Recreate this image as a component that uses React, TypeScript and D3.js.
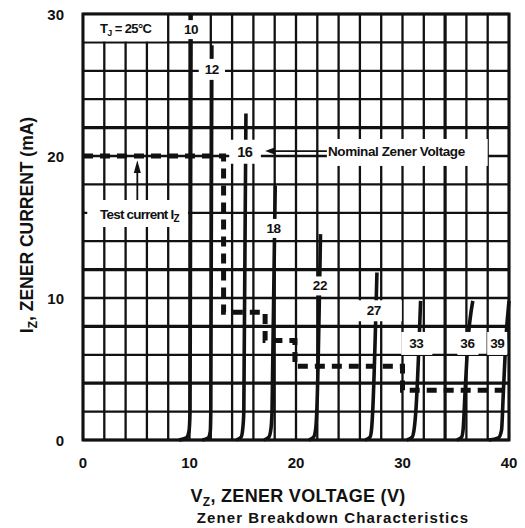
import React, { useEffect, useRef } from "react";
import * as d3 from "d3";

// axis ticks
const xTickValues = [0, 10, 20, 30, 40];
const yTickValues = [0, 10, 20, 30];
// grid lines drawn heavier in the scan
const heavyGridV = [34];
const heavyGridI = [4, 8, 12, 22];

// zener curves, [V, mA]
const curve10: [number, number][] = [[9.0, 0], [9.7, 0.15], [9.95, 0.6], [10.05, 2], [10.15, 30]];
const curve12: [number, number][] = [[11.2, 0], [11.75, 0.15], [11.95, 0.6], [12.0, 2], [12.1, 27.8]];
const curve16: [number, number][] = [[14.4, 0], [14.85, 0.2], [15.0, 0.8], [15.1, 2], [15.3, 23]];
const curve18: [number, number][] = [[17.0, 0], [17.45, 0.2], [17.65, 0.8], [17.75, 2], [18.05, 17.9]];
const curve22: [number, number][] = [[21.2, 0], [21.65, 0.2], [21.85, 0.8], [21.95, 2], [22.3, 14.5]];
const curve27: [number, number][] = [[26.5, 0], [26.95, 0.2], [27.1, 0.8], [27.2, 2], [27.6, 11.8]];
const curve33: [number, number][] = [[30.4, 0], [30.9, 0.2], [31.1, 0.8], [31.25, 2], [31.7, 9.8]];
const curve36: [number, number][] = [[35.1, 0], [35.55, 0.2], [35.7, 0.8], [35.85, 3], [36.1, 6.5], [36.6, 9.8]];
const curve39: [number, number][] = [[38.1, 0], [39.0, 0.15], [39.3, 0.7], [39.45, 3], [39.7, 7], [40.0, 9.8]];

const zenerNames = ["10", "12", "16", "18", "22", "27", "33", "36", "39"];
const zenerCurves = [curve10, curve12, curve16, curve18, curve22, curve27, curve33, curve36, curve39];
// where each curve's label sits (V, mA)
const labelV = [10.14, 12.1, 15.2, 17.9, 22.25, 27.3, 31.3, 36.1, 38.9];
const labelI = [28.9, 26.1, 20.3, 14.9, 10.85, 9.1, 6.8, 6.8, 6.8];

// test current staircase
const testV = [0, 13.2, 13.2, 17.1, 17.1, 19.9, 19.9, 30.0, 30.0, 40];
const testI = [20, 20, 9.0, 9.0, 7.0, 7.0, 5.2, 5.2, 3.5, 3.5];

const FONT = "'Liberation Sans', Arial, sans-serif";

function ZenerChart(props: Props) {
  const svgRef: any = useRef(null);

  useEffect(() => {
    draw();
  }, []);

  const draw = () => {
    const root = d3.select(svgRef.current);
    root.selectAll("*").remove();

    const x = d3.scaleLinear().domain([0, 40]).range([props.left, props.width - props.right]);
    const y = d3.scaleLinear().domain([0, 30]).range([props.height - props.bottom, props.top]);

    const svg = root.append("g");

    // grid
    svg
      .append("g")
      .selectAll("line")
      .data(x.ticks(20))
      .join("line")
      .attr("x1", (d: number) => x(d))
      .attr("x2", (d: number) => x(d))
      .attr("y1", y(0))
      .attr("y2", y(30))
      .attr("stroke", "#111")
      .attr("stroke-width", (d: number) => (heavyGridV.includes(d) ? 3.2 : 2.3));

    svg
      .append("g")
      .selectAll("line")
      .data(y.ticks(15))
      .join("line")
      .attr("x1", x(0))
      .attr("x2", x(40))
      .attr("y1", (d: number) => y(d))
      .attr("y2", (d: number) => y(d))
      .attr("stroke", "#111")
      .attr("stroke-width", (d: number) => (heavyGridI.includes(d) ? 3.2 : 2.3));

    // test current dashed staircase
    const stairs = testV.map((v, i) => [v, testI[i]] as [number, number]);
    svg
      .append("path")
      .datum(stairs)
      .attr("fill", "none")
      .attr("stroke", "#111")
      .attr("stroke-width", 5)
      .attr("stroke-dasharray", "10,7")
      .attr(
        "d",
        d3
          .line<[number, number]>()
          .x((d) => x(d[0]))
          .y((d) => y(d[1]))
      );

    // zener curves
    const curveLine = d3
      .line<[number, number]>()
      .x((d) => x(d[0]))
      .y((d) => y(d[1]))
      .curve(d3.curveMonotoneX);

    svg
      .append("g")
      .selectAll("path")
      .data(zenerCurves)
      .join("path")
      .attr("fill", "none")
      .attr("stroke", "#111")
      .attr("stroke-width", 3.6)
      .attr("d", (d: any) => curveLine(d));

    // label with white box behind
    const boxed = (tx: number, ty: number, padX: number, padY: number, fill: (t: any) => void, size: number) => {
      const g = svg.append("g");
      const rect = g.append("rect").attr("fill", "#fff");
      const t = g
        .append("text")
        .attr("x", tx)
        .attr("y", ty)
        .attr("text-anchor", "middle")
        .attr("dominant-baseline", "central")
        .attr("font-family", FONT)
        .attr("font-weight", "bold")
        .attr("font-size", size)
        .attr("letter-spacing", -0.4)
        .attr("fill", "#111");
      fill(t);
      const b = (t.node() as any).getBBox();
      rect
        .attr("x", b.x - padX)
        .attr("y", b.y - padY)
        .attr("width", b.width + padX * 2)
        .attr("height", b.height + padY * 2);
      return g;
    };

    const pads: Record<string, [number, number]> = {
      "10": [2, 2],
      "12": [6, 3],
      "16": [8, 4],
      "18": [3, 2],
      "22": [7, 2],
      "27": [21, 3],
      "33": [8, 4],
      "36": [3, 4],
      "39": [3, 4],
    };
    zenerNames.forEach((name, i) => {
      const p = pads[name];
      boxed(x(labelV[i]), y(labelI[i]), p[0], p[1], (t) => t.text(name), name === "16" ? 14.5 : 13.5);
    });

    // T_J box (top-left cell row)
    svg
      .append("rect")
      .attr("x", x(0) + 1)
      .attr("y", y(30) + 1)
      .attr("width", x(8) - x(0) - 2.5)
      .attr("height", y(28) - y(30) - 2)
      .attr("fill", "#fff");
    const tj = svg
      .append("text")
      .attr("x", x(4.0))
      .attr("y", y(29) + 4.5)
      .attr("text-anchor", "middle")
      .attr("font-family", FONT)
      .attr("font-weight", "bold")
      .attr("font-size", 13)
      .attr("letter-spacing", -0.6)
      .attr("fill", "#111");
    tj.append("tspan").text("T");
    tj.append("tspan").attr("dy", 3).attr("font-size", 9).text("J");
    tj.append("tspan").attr("dy", -3).text(" = 25°C");

    // test current label
    svg
      .append("rect")
      .attr("x", x(0.4))
      .attr("y", y(16.9))
      .attr("width", x(10) - x(0.4) - 1.5)
      .attr("height", y(15) - y(16.9))
      .attr("fill", "#fff");
    const tc = svg
      .append("text")
      .attr("x", x(5.3))
      .attr("y", y(15.9) + 4.5)
      .attr("text-anchor", "middle")
      .attr("font-family", FONT)
      .attr("font-weight", "bold")
      .attr("font-size", 13.5)
      .attr("letter-spacing", -0.8)
      .attr("fill", "#111");
    tc.append("tspan").text("Test current I");
    tc.append("tspan").attr("dy", 3).attr("font-size", 10).text("Z");

    // arrow up to test current line
    svg
      .append("line")
      .attr("x1", x(5.1))
      .attr("x2", x(5.1))
      .attr("y1", y(16.9))
      .attr("y2", y(19.0))
      .attr("stroke", "#111")
      .attr("stroke-width", 1.8);
    svg
      .append("path")
      .attr(
        "d",
        `M${x(5.1)},${y(19.7)} L${x(5.1) - 3.5},${y(18.8)} L${x(5.1) + 3.5},${y(18.8)} Z`
      )
      .attr("fill", "#111");

    // nominal zener voltage label
    svg
      .append("rect")
      .attr("x", x(22.9))
      .attr("y", y(21.2))
      .attr("width", x(38.0) - x(22.9))
      .attr("height", y(19.3) - y(21.2))
      .attr("fill", "#fff");
    svg
      .append("text")
      .attr("x", x(23.0))
      .attr("y", y(20.3) + 4.5)
      .attr("font-family", FONT)
      .attr("font-weight", "bold")
      .attr("font-size", 13.5)
      .attr("letter-spacing", -0.4)
      .attr("fill", "#111")
      .text("Nominal Zener Voltage");
    svg
      .append("line")
      .attr("x1", x(22.9))
      .attr("x2", x(17.6))
      .attr("y1", y(20.35))
      .attr("y2", y(20.35))
      .attr("stroke", "#111")
      .attr("stroke-width", 1.8);
    svg
      .append("path")
      .attr(
        "d",
        `M${x(17.1)},${y(20.35)} L${x(18.0)},${y(20.35) - 3.5} L${x(18.0)},${y(20.35) + 3.5} Z`
      )
      .attr("fill", "#111");

    // frame
    svg
      .append("rect")
      .attr("x", x(0))
      .attr("y", y(30))
      .attr("width", x(40) - x(0))
      .attr("height", y(0) - y(30))
      .attr("fill", "none")
      .attr("stroke", "#111")
      .attr("stroke-width", 3);

    // tick labels
    svg
      .append("g")
      .selectAll("text")
      .data(xTickValues)
      .join("text")
      .attr("x", (d: number) => x(d))
      .attr("y", y(0) + 28)
      .attr("text-anchor", "middle")
      .attr("font-family", FONT)
      .attr("font-weight", "bold")
      .attr("font-size", 15)
      .attr("fill", "#111")
      .text((d: number) => d);

    svg
      .append("g")
      .selectAll("text")
      .data(yTickValues)
      .join("text")
      .attr("x", x(0) - 19)
      .attr("y", (d: number) => y(d) + 6)
      .attr("text-anchor", "end")
      .attr("font-family", FONT)
      .attr("font-weight", "bold")
      .attr("font-size", 15)
      .attr("fill", "#111")
      .text((d: number) => d);

    // axis titles
    const xl = svg
      .append("text")
      .attr("x", 298)
      .attr("y", 502)
      .attr("text-anchor", "middle")
      .attr("font-family", FONT)
      .attr("font-weight", "bold")
      .attr("font-size", 18)
      .attr("letter-spacing", 0.3)
      .attr("fill", "#111");
    xl.append("tspan").text("V");
    xl.append("tspan").attr("dy", 4).attr("font-size", 12).text("Z");
    xl.append("tspan").attr("dy", -4).text(", ZENER VOLTAGE (V)");

    const yl = svg
      .append("text")
      .attr("transform", `translate(33, 225) rotate(-90)`)
      .attr("text-anchor", "middle")
      .attr("font-family", FONT)
      .attr("font-weight", "bold")
      .attr("font-size", 17.5)
      .attr("fill", "#111");
    yl.append("tspan").text("I");
    yl.append("tspan").attr("dy", 4).attr("font-size", 12).text("Z");
    yl.append("tspan").attr("dy", -4).text(", ZENER CURRENT (mA)");

    svg
      .append("text")
      .attr("x", 333)
      .attr("y", 523)
      .attr("text-anchor", "middle")
      .attr("font-family", FONT)
      .attr("font-weight", "bold")
      .attr("font-size", 15)
      .attr("letter-spacing", 1.1)
      .attr("fill", "#111")
      .text("Zener Breakdown Characteristics");
  };

  return (
    <svg
      ref={svgRef}
      width={props.width}
      height={props.height}
      style={{ position: "absolute", left: 0, top: 0, background: "#fff" }}
    />
  );
}

interface Props {
  width: number;
  height: number;
  top: number;
  bottom: number;
  left: number;
  right: number;
}

export default function App() {
  return <ZenerChart width={525} height={528} top={14} bottom={88} left={83} right={16} />;
}
